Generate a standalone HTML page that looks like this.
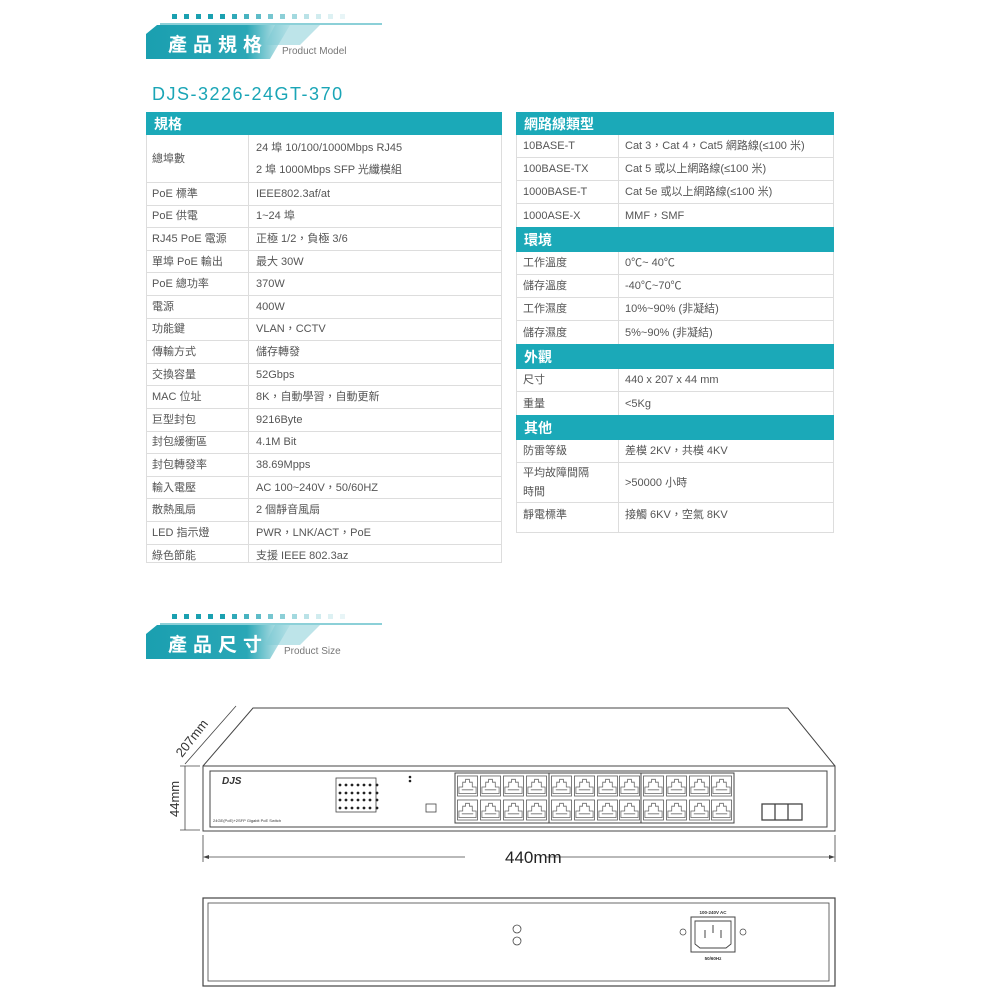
<!DOCTYPE html>
<html><head><meta charset="utf-8"><style>
body{margin:0;width:1000px;height:1000px;background:#fff;position:relative;overflow:hidden;font-family:"Liberation Sans","Noto Sans CJK TC",sans-serif;}
.a{position:absolute;}
.t{position:absolute;border:1px solid #ddd;box-sizing:border-box;}
.h{position:absolute;background:#1ba9b8;color:#fff;font-size:14px;font-weight:bold;padding-left:8px;box-sizing:border-box;display:flex;align-items:center;}
.r{position:absolute;border-bottom:1px solid #ddd;box-sizing:border-box;font-size:11px;color:#555;}
.r span{position:absolute;top:0;bottom:0;display:flex;align-items:center;line-height:22px;}
</style></head><body>

<!-- heading 1 -->
<svg class="a" style="left:0;top:0" width="1000" height="1000">
<defs>
<linearGradient id="g" x1="0" x2="1"><stop offset="0" stop-color="#1a9fb0"/><stop offset="0.7" stop-color="#2aa7b6"/><stop offset="1" stop-color="#e8f5f7"/></linearGradient>
<symbol id="p" viewBox="0 0 22 22"><rect x="0.5" y="0.5" width="21" height="21" fill="#fff" stroke="#555" stroke-width="0.8"/><path d="M2 12 H6 V7 H9 V4 H13 V7 H16 V12 H20 V19 H2 Z" fill="none" stroke="#666" stroke-width="0.8"/><line x1="5" y1="15" x2="17" y2="15" stroke="#777" stroke-width="1"/></symbol>
</defs>
<g fill="#1aa0b0">
<rect x="172" y="14" width="5" height="5"/><rect x="184" y="14" width="5" height="5"/><rect x="196" y="14" width="5" height="5"/><rect x="208" y="14" width="5" height="5"/><rect x="220" y="14" width="5" height="5"/><rect x="232" y="14" width="5" height="5" opacity=".9"/><rect x="244" y="14" width="5" height="5" opacity=".8"/><rect x="256" y="14" width="5" height="5" opacity=".7"/><rect x="268" y="14" width="5" height="5" opacity=".6"/><rect x="280" y="14" width="5" height="5" opacity=".5"/><rect x="292" y="14" width="5" height="5" opacity=".4"/><rect x="304" y="14" width="5" height="5" opacity=".3"/><rect x="316" y="14" width="5" height="5" opacity=".2"/><rect x="328" y="14" width="5" height="5" opacity=".15"/><rect x="340" y="14" width="5" height="5" opacity=".1"/>
</g>
<line x1="160" y1="24" x2="382" y2="24" stroke="#1aa0b0" stroke-width="1"/>
<path d="M157 25 H290 L270 59 H146 V34 Z" fill="url(#g)"/>
<path d="M275 25 H320 L300 45 H265 Z" fill="#7ccad4" opacity=".5"/>

<g fill="#1aa0b0">
<rect x="172" y="614" width="5" height="5"/><rect x="184" y="614" width="5" height="5"/><rect x="196" y="614" width="5" height="5"/><rect x="208" y="614" width="5" height="5"/><rect x="220" y="614" width="5" height="5"/><rect x="232" y="614" width="5" height="5" opacity=".9"/><rect x="244" y="614" width="5" height="5" opacity=".8"/><rect x="256" y="614" width="5" height="5" opacity=".7"/><rect x="268" y="614" width="5" height="5" opacity=".6"/><rect x="280" y="614" width="5" height="5" opacity=".5"/><rect x="292" y="614" width="5" height="5" opacity=".4"/><rect x="304" y="614" width="5" height="5" opacity=".3"/><rect x="316" y="614" width="5" height="5" opacity=".2"/><rect x="328" y="614" width="5" height="5" opacity=".15"/><rect x="340" y="614" width="5" height="5" opacity=".1"/>
</g>
<line x1="160" y1="624" x2="382" y2="624" stroke="#1aa0b0" stroke-width="1"/>
<path d="M157 625 H290 L270 659 H146 V634 Z" fill="url(#g)"/>
<path d="M275 625 H320 L300 645 H265 Z" fill="#7ccad4" opacity=".5"/>

<!-- front view -->
<g fill="none" stroke="#444" stroke-width="1">
<path d="M203 766 L253 708 H788 L835 766"/>
<rect x="203" y="766" width="632" height="65"/>
<rect x="210" y="771" width="617" height="56"/>
<line x1="203" y1="835" x2="203" y2="862" stroke-width=".8"/>
<line x1="835" y1="835" x2="835" y2="862" stroke-width=".8"/>
<line x1="206" y1="857" x2="465" y2="857" stroke-width=".8"/>
<line x1="545" y1="857" x2="832" y2="857" stroke-width=".8"/>
<line x1="185" y1="766" x2="185" y2="830" stroke-width=".8"/>
<line x1="180" y1="766" x2="200" y2="766" stroke-width=".8"/>
<line x1="180" y1="830" x2="200" y2="830" stroke-width=".8"/>
<line x1="185" y1="764" x2="236" y2="706" stroke-width=".8"/>
<rect x="336" y="778" width="40" height="34" stroke-width=".8"/>
<rect x="455" y="773" width="279" height="50"/>
<line x1="549" y1="773" x2="549" y2="823"/><line x1="641" y1="773" x2="641" y2="823"/>
<rect x="762" y="804" width="40" height="16" stroke-width="1.3"/>
<line x1="775" y1="804" x2="775" y2="820" stroke-width="1.3"/><line x1="788" y1="804" x2="788" y2="820" stroke-width="1.3"/>
<rect x="426" y="804" width="10" height="8" stroke-width=".8"/>
</g>
<path d="M203 857 l6 -2 v4 Z M835 857 l-6 -2 v4 Z" fill="#444"/>
<g fill="#222">
<circle cx="340" cy="785" r="1.4"/><circle cx="346" cy="785" r="1.4"/><circle cx="352" cy="785" r="1.4"/><circle cx="358" cy="785" r="1.4"/><circle cx="364" cy="785" r="1.4"/><circle cx="370" cy="785" r="1.4"/><circle cx="377" cy="785" r="1.4"/>
<circle cx="340" cy="793" r="1.4"/><circle cx="346" cy="793" r="1.4"/><circle cx="352" cy="793" r="1.4"/><circle cx="358" cy="793" r="1.4"/><circle cx="364" cy="793" r="1.4"/><circle cx="370" cy="793" r="1.4"/><circle cx="377" cy="793" r="1.4"/>
<circle cx="340" cy="800" r="1.4"/><circle cx="346" cy="800" r="1.4"/><circle cx="352" cy="800" r="1.4"/><circle cx="358" cy="800" r="1.4"/><circle cx="364" cy="800" r="1.4"/><circle cx="370" cy="800" r="1.4"/><circle cx="377" cy="800" r="1.4"/>
<circle cx="340" cy="808" r="1.4"/><circle cx="346" cy="808" r="1.4"/><circle cx="352" cy="808" r="1.4"/><circle cx="358" cy="808" r="1.4"/><circle cx="364" cy="808" r="1.4"/><circle cx="370" cy="808" r="1.4"/><circle cx="377" cy="808" r="1.4"/>
<circle cx="410" cy="777" r="1.3"/><circle cx="410" cy="781" r="1.3"/>
</g>
<g>
<use href="#p" x="457" y="775" width="21" height="22"/><use href="#p" x="480" y="775" width="21" height="22"/><use href="#p" x="503" y="775" width="21" height="22"/><use href="#p" x="526" y="775" width="21" height="22"/>
<use href="#p" x="551" y="775" width="21" height="22"/><use href="#p" x="574" y="775" width="21" height="22"/><use href="#p" x="597" y="775" width="21" height="22"/><use href="#p" x="619" y="775" width="21" height="22"/>
<use href="#p" x="643" y="775" width="21" height="22"/><use href="#p" x="666" y="775" width="21" height="22"/><use href="#p" x="689" y="775" width="21" height="22"/><use href="#p" x="711" y="775" width="21" height="22"/>
<use href="#p" x="457" y="799" width="21" height="22"/><use href="#p" x="480" y="799" width="21" height="22"/><use href="#p" x="503" y="799" width="21" height="22"/><use href="#p" x="526" y="799" width="21" height="22"/>
<use href="#p" x="551" y="799" width="21" height="22"/><use href="#p" x="574" y="799" width="21" height="22"/><use href="#p" x="597" y="799" width="21" height="22"/><use href="#p" x="619" y="799" width="21" height="22"/>
<use href="#p" x="643" y="799" width="21" height="22"/><use href="#p" x="666" y="799" width="21" height="22"/><use href="#p" x="689" y="799" width="21" height="22"/><use href="#p" x="711" y="799" width="21" height="22"/>
</g>
<text x="222" y="784" font-size="10" font-style="italic" font-weight="bold" fill="#333" font-family="Liberation Sans">DJS</text>
<text x="213" y="822" font-size="4" fill="#333" font-family="Liberation Sans">24GE(PoE)+2SFP Gigabit PoE Switch</text>
<text x="505" y="863" font-size="17" fill="#222" font-family="Liberation Sans">440mm</text>
<text x="179" y="817" font-size="13" fill="#333" font-family="Liberation Sans" transform="rotate(-90 179 817)">44mm</text>
<text x="182" y="758" font-size="13" fill="#333" font-family="Liberation Sans" transform="rotate(-52 182 758)">207mm</text>

<!-- rear view -->
<g fill="none" stroke="#444">
<rect x="203" y="898" width="632" height="88" stroke-width="1.2"/>
<rect x="208" y="903" width="621" height="78" stroke-width=".8"/>
<circle cx="517" cy="929" r="4" stroke-width=".8"/>
<circle cx="517" cy="941" r="4" stroke-width=".8"/>
<rect x="691" y="917" width="44" height="35" stroke-width="1"/>
<path d="M695 921 H731 V944 L726 948 H700 L695 944 Z" stroke-width=".9"/>
<line x1="705" y1="930" x2="705" y2="938"/><line x1="713" y1="925" x2="713" y2="933"/><line x1="721" y1="930" x2="721" y2="938"/>
<circle cx="683" cy="932" r="3" stroke-width=".7"/><circle cx="743" cy="932" r="3" stroke-width=".7"/>
</g>
<text x="713" y="914" font-size="4.5" text-anchor="middle" font-weight="bold" fill="#333" font-family="Liberation Sans">100-240V  AC</text>
<text x="713" y="960" font-size="4.5" text-anchor="middle" font-weight="bold" fill="#333" font-family="Liberation Sans">50/60Hz</text>
</svg>

<div class="a" style="left:168px;top:30px;font-size:19px;color:#fff;letter-spacing:6px;font-weight:bold">產品規格</div>
<div class="a" style="left:282px;top:46px;font-size:10px;color:#777">Product Model</div>
<div class="a" style="left:168px;top:630px;font-size:19px;color:#fff;letter-spacing:6px;font-weight:bold">產品尺寸</div>
<div class="a" style="left:284px;top:646px;font-size:10px;color:#777">Product Size</div>
<div class="a" style="left:152px;top:84px;font-size:18px;color:#1aa5b6;letter-spacing:1.5px">DJS-3226-24GT-370</div>

<!-- left table -->
<div class="t" style="left:146px;top:112px;width:356px;height:451px"></div>
<div class="a" style="left:248px;top:135px;width:1px;height:428px;background:#ddd"></div>
<div class="h" style="left:146px;top:112px;width:356px;height:23px">規格</div>
<div style="position:absolute;left:146px;top:135px;width:356px">
<div class="r" style="position:relative;height:48px"><span style="left:6px">總埠數</span><span style="left:110px;flex-direction:column;justify-content:center;align-items:flex-start">24 埠 10/100/1000Mbps RJ45<br>2 埠 1000Mbps SFP 光纖模組</span></div>
<div class="r" style="position:relative;height:22.6px"><span style="left:6px">PoE 標準</span><span style="left:110px">IEEE802.3af/at</span></div>
<div class="r" style="position:relative;height:22.6px"><span style="left:6px">PoE 供電</span><span style="left:110px">1~24 埠</span></div>
<div class="r" style="position:relative;height:22.6px"><span style="left:6px">RJ45 PoE 電源</span><span style="left:110px">正極 1/2，負極 3/6</span></div>
<div class="r" style="position:relative;height:22.6px"><span style="left:6px">單埠 PoE 輸出</span><span style="left:110px">最大 30W</span></div>
<div class="r" style="position:relative;height:22.6px"><span style="left:6px">PoE 總功率</span><span style="left:110px">370W</span></div>
<div class="r" style="position:relative;height:22.6px"><span style="left:6px">電源</span><span style="left:110px">400W</span></div>
<div class="r" style="position:relative;height:22.6px"><span style="left:6px">功能鍵</span><span style="left:110px">VLAN，CCTV</span></div>
<div class="r" style="position:relative;height:22.6px"><span style="left:6px">傳輸方式</span><span style="left:110px">儲存轉發</span></div>
<div class="r" style="position:relative;height:22.6px"><span style="left:6px">交換容量</span><span style="left:110px">52Gbps</span></div>
<div class="r" style="position:relative;height:22.6px"><span style="left:6px">MAC 位址</span><span style="left:110px">8K，自動學習，自動更新</span></div>
<div class="r" style="position:relative;height:22.6px"><span style="left:6px">巨型封包</span><span style="left:110px">9216Byte</span></div>
<div class="r" style="position:relative;height:22.6px"><span style="left:6px">封包緩衝區</span><span style="left:110px">4.1M Bit</span></div>
<div class="r" style="position:relative;height:22.6px"><span style="left:6px">封包轉發率</span><span style="left:110px">38.69Mpps</span></div>
<div class="r" style="position:relative;height:22.6px"><span style="left:6px">輸入電壓</span><span style="left:110px">AC 100~240V，50/60HZ</span></div>
<div class="r" style="position:relative;height:22.6px"><span style="left:6px">散熱風扇</span><span style="left:110px">2 個靜音風扇</span></div>
<div class="r" style="position:relative;height:22.6px"><span style="left:6px">LED 指示燈</span><span style="left:110px">PWR，LNK/ACT，PoE</span></div>
<div class="r" style="position:relative;height:22.6px;border:0"><span style="left:6px">綠色節能</span><span style="left:110px">支援 IEEE 802.3az</span></div>
</div>

<!-- right table -->
<div class="t" style="left:516px;top:112px;width:318px;height:421px"></div>
<div class="a" style="left:618px;top:135px;width:1px;height:398px;background:#ddd"></div>
<div style="position:absolute;left:516px;top:112px;width:318px">
<div class="h" style="position:relative;height:23px">網路線類型</div>
<div class="r" style="position:relative;height:23px"><span style="left:7px">10BASE-T</span><span style="left:109px">Cat 3，Cat 4，Cat5 網路線(≤100 米)</span></div>
<div class="r" style="position:relative;height:23px"><span style="left:7px">100BASE-TX</span><span style="left:109px">Cat 5 或以上網路線(≤100 米)</span></div>
<div class="r" style="position:relative;height:23px"><span style="left:7px">1000BASE-T</span><span style="left:109px">Cat 5e 或以上網路線(≤100 米)</span></div>
<div class="r" style="position:relative;height:23px;border:0"><span style="left:7px">1000ASE-X</span><span style="left:109px">MMF，SMF</span></div>
<div class="h" style="position:relative;height:25px">環境</div>
<div class="r" style="position:relative;height:23px"><span style="left:7px">工作溫度</span><span style="left:109px">0℃~ 40℃</span></div>
<div class="r" style="position:relative;height:23px"><span style="left:7px">儲存溫度</span><span style="left:109px">-40℃~70℃</span></div>
<div class="r" style="position:relative;height:23px"><span style="left:7px">工作濕度</span><span style="left:109px">10%~90% (非凝結)</span></div>
<div class="r" style="position:relative;height:23px;border:0"><span style="left:7px">儲存濕度</span><span style="left:109px">5%~90% (非凝結)</span></div>
<div class="h" style="position:relative;height:25px">外觀</div>
<div class="r" style="position:relative;height:23px"><span style="left:7px">尺寸</span><span style="left:109px">440 x 207 x 44 mm</span></div>
<div class="r" style="position:relative;height:23px;border:0"><span style="left:7px">重量</span><span style="left:109px">&lt;5Kg</span></div>
<div class="h" style="position:relative;height:25px">其他</div>
<div class="r" style="position:relative;height:23px"><span style="left:7px">防雷等級</span><span style="left:109px">差模 2KV，共模 4KV</span></div>
<div class="r" style="position:relative;height:40px"><span style="left:7px;flex-direction:column;justify-content:center;align-items:flex-start;line-height:19px">平均故障間隔<br>時間</span><span style="left:109px">&gt;50000 小時</span></div>
<div class="r" style="position:relative;height:24px;border:0"><span style="left:7px">靜電標準</span><span style="left:109px">接觸 6KV，空氣 8KV</span></div>
</div>
</body></html>
